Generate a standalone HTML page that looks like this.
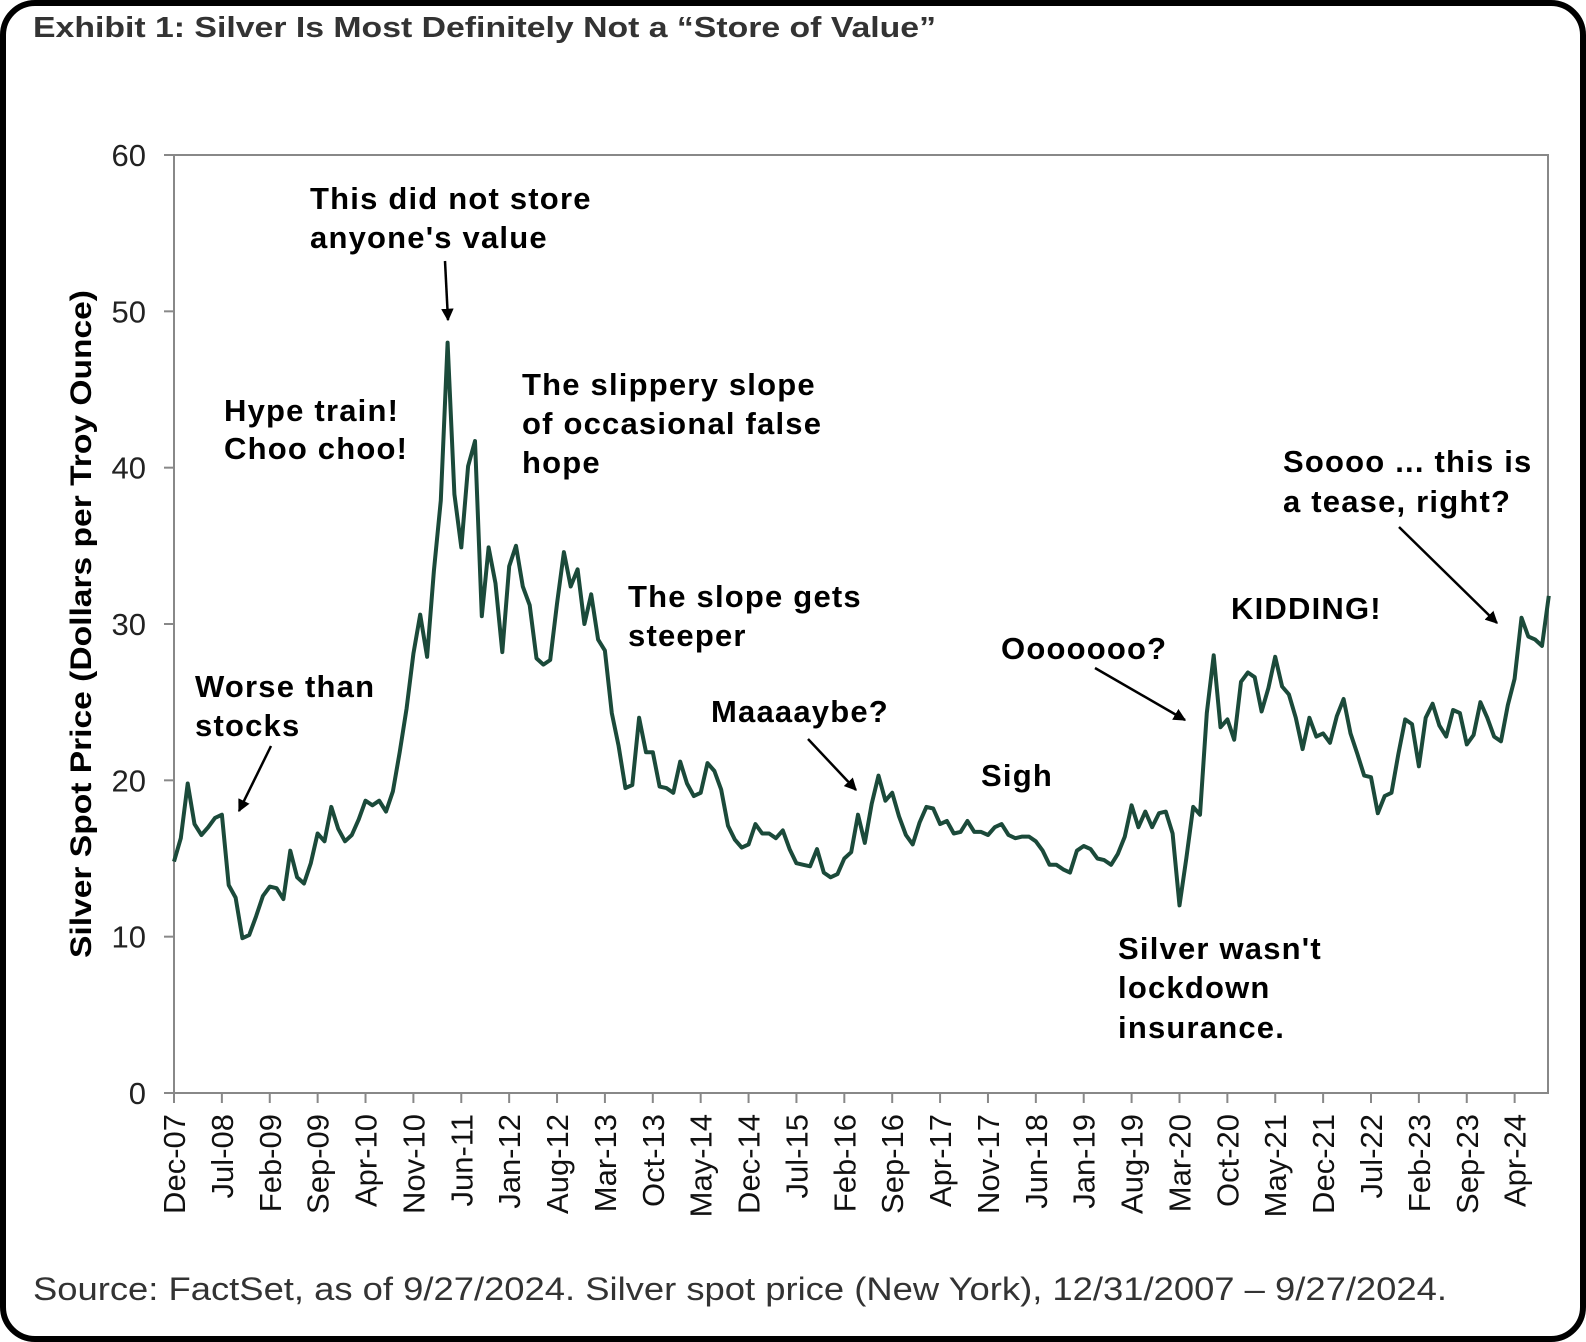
<!DOCTYPE html>
<html><head><meta charset="utf-8"><style>
html,body{margin:0;padding:0;background:#fff;}
svg{display:block;font-family:"Liberation Sans",sans-serif;}
</style></head><body>
<svg id="chart" width="1586" height="1342" viewBox="0 0 1586 1342">
<rect x="3" y="3" width="1580" height="1336" rx="32" fill="#fff" stroke="#000" stroke-width="6"/>
<text x="33" y="37" font-size="29" font-weight="bold" fill="#333" textLength="903" lengthAdjust="spacingAndGlyphs">Exhibit 1: Silver Is Most Definitely Not a “Store of Value”</text>
<text x="33" y="1300" font-size="32" fill="#333" textLength="1414" lengthAdjust="spacingAndGlyphs">Source: FactSet, as of 9/27/2024. Silver spot price (New York), 12/31/2007 – 9/27/2024.</text>
<rect x="174" y="155" width="1374" height="938" fill="none" stroke="#888" stroke-width="2"/>
<g id="yaxis"></g>
<g id="xaxis"></g>
<text transform="translate(91,624) rotate(-90)" text-anchor="middle" font-size="30" font-weight="bold" fill="#000" textLength="668" lengthAdjust="spacingAndGlyphs">Silver Spot Price (Dollars per Troy Ounce)</text>
<path id="series" fill="none" stroke="#1b4a3a" stroke-width="4" stroke-linejoin="round"/>
<g font-size="31" font-weight="bold" fill="#000" letter-spacing="1.2">
<text x="310" y="209">This did not store</text>
<text x="310" y="248">anyone's value</text>
<text x="224" y="421">Hype train!</text>
<text x="224" y="459">Choo choo!</text>
<text x="522" y="395">The slippery slope</text>
<text x="522" y="434">of occasional false</text>
<text x="522" y="473">hope</text>
<text x="195" y="697">Worse than</text>
<text x="195" y="736">stocks</text>
<text x="628" y="607">The slope gets</text>
<text x="628" y="646">steeper</text>
<text x="711" y="722">Maaaaybe?</text>
<text x="981" y="786">Sigh</text>
<text x="1001" y="659">Ooooooo?</text>
<text x="1231" y="619">KIDDING!</text>
<text x="1283" y="472">Soooo ... this is</text>
<text x="1283" y="512">a tease, right?</text>
<text x="1118" y="959">Silver wasn't</text>
<text x="1118" y="998">lockdown</text>
<text x="1118" y="1038">insurance.</text>
</g>
<defs><marker id="ah" viewBox="0 0 10 10" refX="9" refY="5" markerWidth="5" markerHeight="5" orient="auto"><path d="M0,0L10,5L0,10z" fill="#000"/></marker></defs>
<g stroke="#000" stroke-width="2.5" marker-end="url(#ah)">
<line x1="445" y1="261" x2="448" y2="320"/>
<line x1="271" y1="746" x2="239" y2="811"/>
<line x1="808" y1="739" x2="856" y2="790"/>
<line x1="1095" y1="668" x2="1185" y2="720"/>
<line x1="1399" y1="527" x2="1497" y2="623"/>
</g>
</svg>
<script>
const yTicks=[0,10,20,30,40,50,60];
const xTickLabels=["Dec-07","Jul-08","Feb-09","Sep-09","Apr-10","Nov-10","Jun-11","Jan-12","Aug-12","Mar-13","Oct-13","May-14","Dec-14","Jul-15","Feb-16","Sep-16","Apr-17","Nov-17","Jun-18","Jan-19","Aug-19","Mar-20","Oct-20","May-21","Dec-21","Jul-22","Feb-23","Sep-23","Apr-24"];
const prices2008=[14.8,16.3,19.8,17.2,16.5,17.0,17.6,17.8,13.3,12.5,9.9,10.1,11.3];
const prices2009=[12.6,13.2,13.1,12.4,15.5,13.8,13.4,14.7,16.6,16.1,18.3,16.9];
const prices2010=[16.1,16.5,17.5,18.7,18.4,18.7,18.0,19.3,21.8,24.6,28.1,30.6];
const prices2011=[27.9,33.4,37.9,48.0,38.3,34.9,40.1,41.7,30.5,34.9,32.6,28.2];
const prices2012=[33.7,35.0,32.4,31.2,27.8,27.4,27.7,31.3,34.6,32.4,33.5,30.0];
const prices2013=[31.9,29.0,28.3,24.3,22.2,19.5,19.7,24.0,21.8,21.8,19.6,19.5];
const prices2014=[19.2,21.2,19.8,19.0,19.2,21.1,20.6,19.4,17.1,16.2,15.7,15.9];
const prices2015=[17.2,16.6,16.6,16.3,16.8,15.6,14.7,14.6,14.5,15.6,14.1,13.8];
const prices2016=[14.0,15.0,15.4,17.8,16.0,18.5,20.3,18.7,19.2,17.7,16.5,15.9];
const prices2017=[17.3,18.3,18.2,17.2,17.4,16.6,16.7,17.4,16.7,16.7,16.5,17.0];
const prices2018=[17.2,16.5,16.3,16.4,16.4,16.1,15.5,14.6,14.6,14.3,14.1,15.5];
const prices2019=[15.8,15.6,15.0,14.9,14.6,15.3,16.4,18.4,17.0,18.0,17.0,17.9];
const prices2020=[18.0,16.6,12.0,15.0,18.3,17.8,24.3,28.0,23.4,23.9,22.6,26.3];
const prices2021=[26.9,26.6,24.4,25.9,27.9,26.0,25.5,24.0,22.0,24.0,22.8,23.0];
const prices2022=[22.4,24.1,25.2,23.0,21.7,20.3,20.2,17.9,19.0,19.2,21.7,23.9];
const prices2023=[23.6,20.9,24.0,24.9,23.5,22.8,24.5,24.3,22.3,22.9,25.0,24.0];
const prices2024=[22.8,22.5,24.8,26.5,30.4,29.2,29.0,28.6,31.8];
const prices=[].concat(prices2008,prices2009,prices2010,prices2011,prices2012,prices2013,prices2014,prices2015,prices2016,prices2017,prices2018,prices2019,prices2020,prices2021,prices2022,prices2023,prices2024);
const NS="http://www.w3.org/2000/svg";
const X0=174,PXM=6.84,Y0=1093,Y1=155,YMAX=60;
function xScale(m){return X0+m*PXM;}
function yScale(v){return Y0-(v/YMAX)*(Y0-Y1);}
const ya=document.getElementById('yaxis');
yTicks.forEach(v=>{
  const t=document.createElementNS(NS,'text');
  
  
  t.setAttribute('x',146);t.setAttribute('y',yScale(v)+11);
  t.setAttribute('text-anchor','end');t.setAttribute('font-size','31');t.setAttribute('fill','#222');
  t.textContent=v;ya.appendChild(t);
  const l=document.createElementNS(NS,'line');
  
  
  l.setAttribute('x1',164);l.setAttribute('x2',174);l.setAttribute('y1',yScale(v));l.setAttribute('y2',yScale(v));
  l.setAttribute('stroke','#888');l.setAttribute('stroke-width','2');ya.appendChild(l);
});
const xa=document.getElementById('xaxis');
xTickLabels.forEach((lab,i)=>{
  const x=xScale(i*7);
  const l=document.createElementNS(NS,'line');
  
  
  l.setAttribute('x1',x);l.setAttribute('x2',x);l.setAttribute('y1',1093);l.setAttribute('y2',1103);
  l.setAttribute('stroke','#888');l.setAttribute('stroke-width','2');xa.appendChild(l);
  const t=document.createElementNS(NS,'text');
  
  
  t.setAttribute('transform','translate('+(x+11)+',1114) rotate(-90)');
  t.setAttribute('text-anchor','end');t.setAttribute('font-size','31');t.setAttribute('fill','#111');
  t.textContent=lab;xa.appendChild(t);
});
let d='';
prices.forEach((v,i)=>{d+=(i?'L':'M')+xScale(i).toFixed(1)+','+yScale(v).toFixed(1);});
document.getElementById('series').setAttribute('d',d);
</script>
</body></html>
